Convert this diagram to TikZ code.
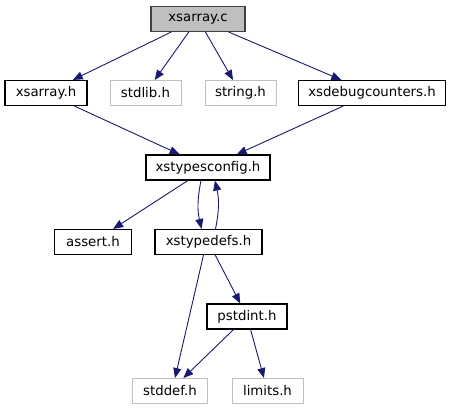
\documentclass[tikz,border=0pt]{standalone}
\usepackage{fontspec}
\setmainfont{DejaVu Sans}
\usetikzlibrary{arrows.meta}
\definecolor{dxblue}{RGB}{25,25,112}
\definecolor{dxgray}{RGB}{191,191,191}
\definecolor{dxdark}{RGB}{64,64,64}
\tikzset{
    hdr/.style={rectangle, draw=black, fill=white, line width=1.1pt, minimum height=25pt, inner sep=0pt, font=\fontsize{13.3}{16}\selectfont},
    syshdr/.style={hdr, draw=dxgray, line width=0.9pt},
    rootfile/.style={hdr, draw=dxdark, fill=dxgray},
    arr/.style={-{Triangle[length=10pt, width=8pt]}, line width=0.9pt, color=dxblue}
}
\begin{document}
\begin{tikzpicture}[x=1pt, y=-1pt]
        \useasboundingbox (0,0) rectangle (451,411);
        \node[rootfile, minimum width=94pt] (src)   at (198,19)    {xsarray.c};
        \node[hdr, minimum width=82pt]      (arrh)  at (46,93)     {xsarray.h};
        \node[syshdr, minimum width=71pt]   (stdl)  at (145.5,93)  {stdlib.h};
        \node[syshdr, minimum width=71pt]   (strh)  at (240.5,93)  {string.h};
        \node[hdr, minimum width=147pt]     (dbgc)  at (372,93)    {xsdebugcounters.h};
        \node[hdr, minimum width=124pt]     (cfg)   at (208,167.5) {xstypesconfig.h};
        \node[hdr, minimum width=77pt]      (asrt)  at (93,242)    {assert.h};
        \node[hdr, minimum width=107pt]     (tdef)  at (208.5,242) {xstypedefs.h};
        \node[hdr, minimum width=80pt]      (pint)  at (247,316.5) {pstdint.h};
        \node[syshdr, minimum width=75pt]   (sdef)  at (170,391)   {stddef.h};
        \node[syshdr, minimum width=71pt]   (lim)   at (267.5,391) {limits.h};
        \draw[arr] (src) -- (arrh);
        \draw[arr] (src) -- (stdl);
        \draw[arr] (src) -- (strh);
        \draw[arr] (src) -- (dbgc);
        \draw[arr] (arrh) -- (cfg);
        \draw[arr] (dbgc) -- (cfg);
        \draw[arr] (cfg) -- (asrt);
        \draw[arr] ([xshift=-7pt]cfg.south) to[bend right=12] ([xshift=-7pt]tdef.north);
        \draw[arr] ([xshift=7pt]tdef.north) to[bend right=12] ([xshift=7pt]cfg.south);
        \draw[arr] ([xshift=-5pt]tdef.south) -- ([xshift=5pt]sdef.north);
        \draw[arr] (tdef) -- (pint);
        \draw[arr] (pint) -- (sdef);
        \draw[arr] (pint) -- (lim);
        \end{tikzpicture}
\end{document}
